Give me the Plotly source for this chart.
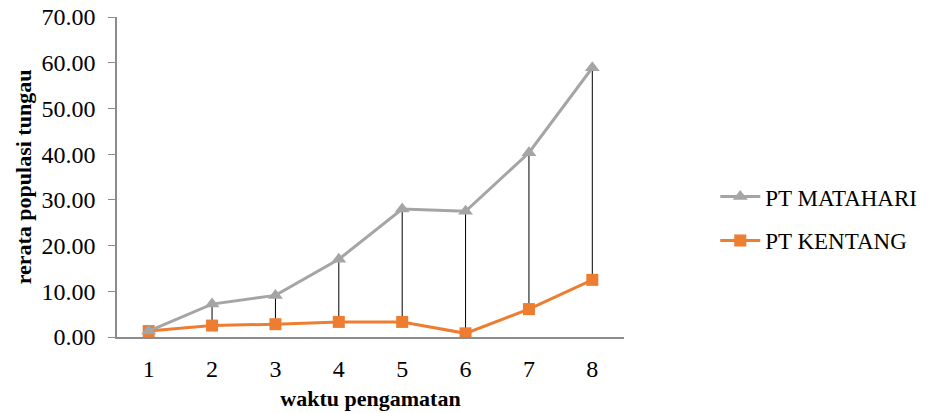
import plotly.graph_objects as go

categories = [1, 2, 3, 4, 5, 6, 7, 8]
matahari = [1.3, 7.2, 9.1, 17.0, 28.0, 27.5, 40.3, 58.9]
kentang = [1.3, 2.5, 2.8, 3.3, 3.3, 0.8, 6.1, 12.5]
y_ticks = [0, 10, 20, 30, 40, 50, 60, 70]

GRAY = "#A5A5A5"
ORANGE = "#ED7D31"
FONT = "Liberation Serif"

# high-low drop lines built from the data
hx, hy = [], []
for c, a, b in zip(categories, matahari, kentang):
    hx += [c, c, None]
    hy += [a, b, None]

fig = go.Figure()
fig.add_trace(go.Scatter(x=hx, y=hy, mode="lines", line=dict(color="black", width=1),
                         showlegend=False, hoverinfo="skip"))
fig.add_trace(go.Scatter(x=categories, y=kentang, name="PT KENTANG", mode="lines+markers",
                         line=dict(color=ORANGE, width=3),
                         marker=dict(symbol="square", size=12, color=ORANGE),
                         legendgroup="b", legendrank=2))
fig.add_trace(go.Scatter(x=categories, y=matahari, name="PT MATAHARI", mode="lines+markers",
                         line=dict(color=GRAY, width=3),
                         marker=dict(symbol="triangle-up", size=13, color=GRAY),
                         legendgroup="a", legendrank=1))

fig.update_layout(
    width=938, height=413,
    margin=dict(l=117, r=314, t=17, b=76),
    paper_bgcolor="white", plot_bgcolor="white",
    font=dict(family=FONT, size=22, color="black"),
    legend=dict(x=1.18, y=0.37, xanchor="left", yanchor="middle",
                traceorder="grouped", tracegroupgap=11,
                font=dict(family=FONT, size=23, color="black"),
                itemwidth=40, borderwidth=0),
    xaxis=dict(range=[0.5, 8.5], tickmode="array", tickvals=categories,
               ticktext=[str(c) for c in categories],
               showline=True, linecolor="#8C8C8C", linewidth=1.5,
               ticks="", showgrid=False, zeroline=False, automargin=False,
               ticklabelstandoff=9,
               tickfont=dict(family=FONT, size=24, color="black"),
               title=dict(text="<b>waktu pengamatan</b>", font=dict(family=FONT, size=22, color="black"), standoff=10)),
    yaxis=dict(range=[0, 70], tickmode="array", tickvals=y_ticks,
               ticktext=[f"{v:.2f}" for v in y_ticks],
               showline=True, linecolor="#8C8C8C", linewidth=1.5,
               ticks="outside", ticklen=7, tickcolor="#8C8C8C",
               showgrid=False, zeroline=False, automargin=False,
               ticklabelstandoff=8,
               tickfont=dict(family=FONT, size=24, color="black"),
               title=dict(text="<b>rerata populasi tungau</b>", font=dict(family=FONT, size=22, color="black"), standoff=4)),
)

fig.write_html("out.html")
